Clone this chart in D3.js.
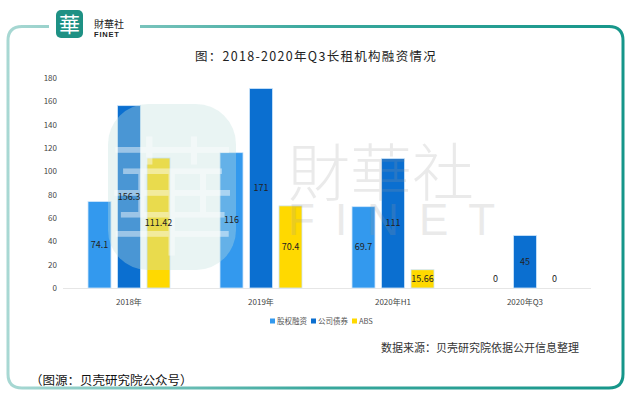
<!DOCTYPE html>
<html><head><meta charset="utf-8">
<script src="https://cdn.jsdelivr.net/npm/d3@7"></script>
<style>
html,body{margin:0;padding:0;background:#fff;}
svg{display:block;font-family:"Microsoft YaHei","Noto Sans CJK SC",sans-serif;}
</style></head>
<body>
<svg id="c" width="638" height="401"></svg>
<script>
const categories = ["2018年", "2019年", "2020年H1", "2020年Q3"];
const seriesNames = ["股权融资", "公司债券", "ABS"];
const equity = [74.1, 116, 69.7, 0];
const bonds = [156.3, 171, 111, 45];
const abs = [111.42, 70.4, 15.66, 0];
const valueLabels = [["74.1","116","69.7","0"],["156.3","171","111","45"],["111.42","70.4","15.66","0"]];
const yTicks = [0,20,40,60,80,100,120,140,160,180];
const colors = ["#3399ee", "#0b6fd0", "#ffd900"];
const seriesValues = [equity, bonds, abs];

const svg = d3.select("#c");
const defs = svg.append("defs");
const gb = defs.append("linearGradient").attr("id","gb").attr("x1","0").attr("x2","1").attr("y1","0").attr("y2","0");
gb.append("stop").attr("offset","0").attr("stop-color","#a8d8d3");
gb.append("stop").attr("offset","0.5").attr("stop-color","#3aa89d");
gb.append("stop").attr("offset","1").attr("stop-color","#16968a");

// frame
const fx0=8, fy0=26.5, fx1=623, fy1=388, r=14;
svg.append("path")
  .attr("d",`M49,${fy0} L${fx0+r},${fy0} Q${fx0},${fy0} ${fx0},${fy0+r} L${fx0},${fy1-r} Q${fx0},${fy1} ${fx0+r},${fy1} L${fx1-r},${fy1} Q${fx1},${fy1} ${fx1},${fy1-r} L${fx1},${fy0+r} Q${fx1},${fy0} ${fx1-r},${fy0} L140,${fy0}`)
  .attr("fill","none").attr("stroke","url(#gb)").attr("stroke-width",3);

// logo
svg.append("rect").attr("x",56).attr("y",10).attr("width",27).attr("height",28).attr("rx",5).attr("fill","#1e9184");
svg.append("text").attr("x",69.5).attr("y",32).attr("text-anchor","middle").attr("font-size",21).attr("fill","#fff").text("華");
svg.append("text").attr("x",94).attr("y",28).attr("font-size",10).attr("fill","#222").text("財華社");
svg.append("text").attr("x",94).attr("y",37).attr("font-size",7.5).attr("font-family","Arial, Liberation Sans").attr("font-weight","bold").attr("fill","#222").attr("letter-spacing",0.8).text("FINET");

// title
svg.append("text").attr("x",316).attr("y",61).attr("text-anchor","middle").attr("font-size",12.5).attr("letter-spacing",1.3).attr("fill","#222").text("图：2018-2020年Q3长租机构融资情况");

const y = d3.scaleLinear().domain([0,180]).range([288,78]);
const x0 = d3.scaleBand().domain(categories).range([63,591]).padding(0);
const x1 = d3.scaleBand().domain(seriesNames).range([25,107]).paddingInner(0.22);

// y axis labels
svg.append("g").selectAll("text").data(yTicks).join("text")
  .attr("x",57).attr("y",d=>y(d)+3).attr("text-anchor","end").attr("font-size",8).attr("fill","#444").text(d=>d);
// baseline
svg.append("line").attr("x1",63).attr("x2",591).attr("y1",288.5).attr("y2",288.5).attr("stroke","#e6e6e6");

// bars
const g = svg.append("g");
seriesValues.forEach((vals,si)=>{
  g.selectAll(null).data(vals).join("rect")
    .attr("x",(d,i)=>x0(categories[i])+x1(seriesNames[si]))
    .attr("y",d=>y(d)).attr("width",x1.bandwidth()).attr("height",d=>y(0)-y(d))
    .attr("fill",colors[si]).attr("stroke","#cfe6fb").attr("stroke-width",d=>d>0?0.8:0);
});
// watermark
const wm = svg.append("g").attr("pointer-events","none");
wm.append("rect").attr("x",108).attr("y",104).attr("width",128).attr("height",166).attr("rx",40).attr("fill","#bfdfdc").attr("opacity",0.35);
wm.append("text").attr("x",172).attr("y",245).attr("text-anchor","middle").attr("font-size",130).attr("font-weight","300").attr("fill","#ffffff").attr("opacity",0.45).text("華");
wm.append("text").attr("x",288).attr("y",196).attr("font-size",62).attr("font-weight","300").attr("fill","#9a9a9a").attr("opacity",0.2).text("財華社");
wm.append("text").attr("x",288).attr("y",235).attr("font-size",44).attr("font-family","Arial, Liberation Sans").attr("fill","#9a9a9a").attr("opacity",0.2).attr("letter-spacing",20).text("FINET");

// value labels
seriesValues.forEach((vals,si)=>{
  svg.append("g").selectAll("text").data(vals).join("text")
    .attr("x",(d,i)=>x0(categories[i])+x1(seriesNames[si])+x1.bandwidth()/2)
    .attr("y",d=>Math.min((y(d)+y(0))/2, y(0)-9)+3)
    .attr("text-anchor","middle").attr("font-size",9).attr("fill","#222")
    .text((d,i)=>valueLabels[si][i]);
});

// x labels
svg.append("g").selectAll("text").data(categories).join("text")
  .attr("x",d=>x0(d)+x0.bandwidth()/2).attr("y",305).attr("text-anchor","middle").attr("font-size",8).attr("fill","#444").text(d=>d);

// legend
const legX = [270, 311, 352];
const lg = svg.append("g");
seriesNames.forEach((n,i)=>{
  lg.append("rect").attr("x",legX[i]).attr("y",318.5).attr("width",5).attr("height",5).attr("fill",colors[i]);
  lg.append("text").attr("x",legX[i]+7).attr("y",324).attr("font-size",7.5).attr("fill","#555").text(n);
});

svg.append("text").attr("x",381).attr("y",352).attr("font-size",11).attr("fill","#333").text("数据来源：贝壳研究院依据公开信息整理");
svg.append("text").attr("x",30).attr("y",385).attr("font-size",12.5).attr("fill","#111").text("（图源：贝壳研究院公众号）");
</script>
</body></html>
